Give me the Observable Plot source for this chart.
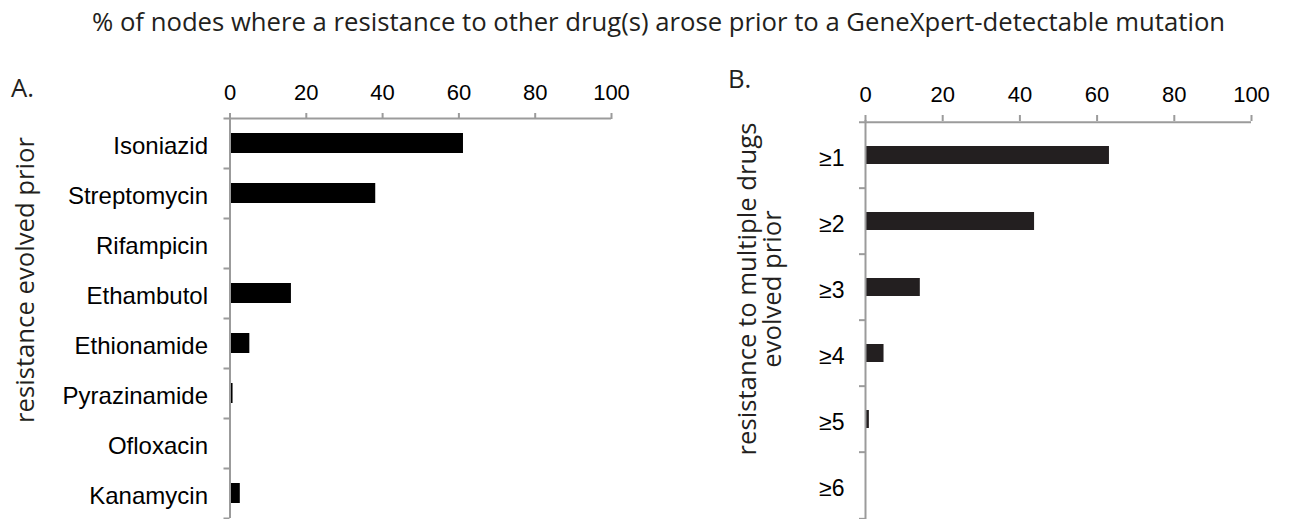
<!DOCTYPE html>
<html>
<head>
<meta charset="utf-8">
<script src="https://cdn.jsdelivr.net/npm/d3@7"></script>
<script src="https://cdn.jsdelivr.net/npm/@observablehq/plot@0.6"></script>
<style>
  html, body { margin: 0; padding: 0; background: #fff; overflow: hidden; }
  #page { position: relative; width: 1290px; height: 519px; overflow: hidden; }
  .abs { position: absolute; white-space: nowrap; color: #231f20; font-family: "Open Sans", "Noto Sans", sans-serif; font-size: 25.7px; }
  .rot { transform: translate(-50%, -50%) rotate(-90deg); text-align: center; }
  #title { left: 92px; top: 3.5px; }
  .panel { position: absolute; top: 0; }
</style>
</head>
<body>
<div id="page">
  <div id="title" class="abs">% of nodes where a resistance to other drug(s) arose prior to a GeneXpert-detectable mutation</div>
  <div class="abs" style="left:11px; top:70px;">A.</div>
  <div class="abs" style="left:728px; top:61px;">B.</div>
  <div class="abs rot" style="left:24px; top:280px;">resistance evolved prior</div>
  <div class="abs rot" style="left:759px; top:289px; line-height:25px;">resistance to multiple drugs<br>evolved prior</div>
  <div id="panelA" class="panel" style="left:0px;"></div>
  <div id="panelB" class="panel" style="left:645px;"></div>
</div>
<script>
// Panel A data
const drugs = ["Isoniazid", "Streptomycin", "Rifampicin", "Ethambutol", "Ethionamide", "Pyrazinamide", "Ofloxacin", "Kanamycin"];
const drugPct = [61.2, 38.2, 0, 16.1, 5.2, 0.8, 0.3, 2.7];
// Panel B data
const multiCats = ["≥1", "≥2", "≥3", "≥4", "≥5", "≥6"];
const multiPct = [63.2, 43.8, 14.2, 4.8, 1.0, 0];
// Shared x ticks
const xTicks = [0, 20, 40, 60, 80, 100];

function panel(cats, vals, o) {
  const data = cats.map((c, i) => ({name: c, value: vals[i]}));
  const step = (o.height - o.marginTop - o.marginBottom) / cats.length;
  const axisGray = "#9b9b9b";
  return Plot.plot({
    width: o.width,
    height: o.height,
    marginTop: o.marginTop,
    marginBottom: o.marginBottom,
    marginLeft: o.marginLeft,
    marginRight: o.marginRight,
    style: {fontFamily: "'Liberation Sans', Arial, sans-serif", background: "transparent", overflow: "visible", color: "#000"},
    x: {domain: [0, 100]},
    y: {domain: cats, padding: 0},
    marks: [
      Plot.barX(data, {x: "value", y: "name", fill: o.fill, insetTop: o.inset, insetBottom: o.inset}),
      Plot.ruleX([0], {stroke: axisGray, strokeWidth: 2}),
      Plot.ruleY([cats[0]], {y: d => d, dy: -step / 2, x1: () => 0, x2: () => 100, insetLeft: -6, stroke: axisGray, strokeWidth: 2}),
      Plot.ruleY(cats.slice(1), {y: d => d, dy: -step / 2, x1: () => 0, x2: () => 0, insetLeft: -6, stroke: axisGray, strokeWidth: 2}),
      Plot.ruleY([cats[cats.length - 1]], {y: d => d, dy: step / 2, x1: () => 0, x2: () => 0, insetLeft: -6, stroke: axisGray, strokeWidth: 2}),
      Plot.axisX(xTicks, {anchor: "top", tickSize: 6, tickPadding: 13, stroke: axisGray, strokeWidth: 2, fill: "#000", fontSize: 22, label: null}),
      Plot.axisY({anchor: "left", tickSize: 0, tickPadding: o.labelPad, fill: "#000", fontSize: o.labelSize, label: null, dy: 3})
    ]
  });
}

document.getElementById("panelA").append(panel(drugs, drugPct, {
  width: 645, height: 519, marginTop: 118, marginBottom: 1, marginLeft: 229.5, marginRight: 34,
  fill: "#000", inset: 15, labelPad: 22, labelSize: 24
}));
document.getElementById("panelB").append(panel(multiCats, multiPct, {
  width: 645, height: 521, marginTop: 120, marginBottom: 1, marginLeft: 220, marginRight: 39,
  fill: "#231f20", inset: 24, labelPad: 21, labelSize: 23
}));
</script>
</body>
</html>
